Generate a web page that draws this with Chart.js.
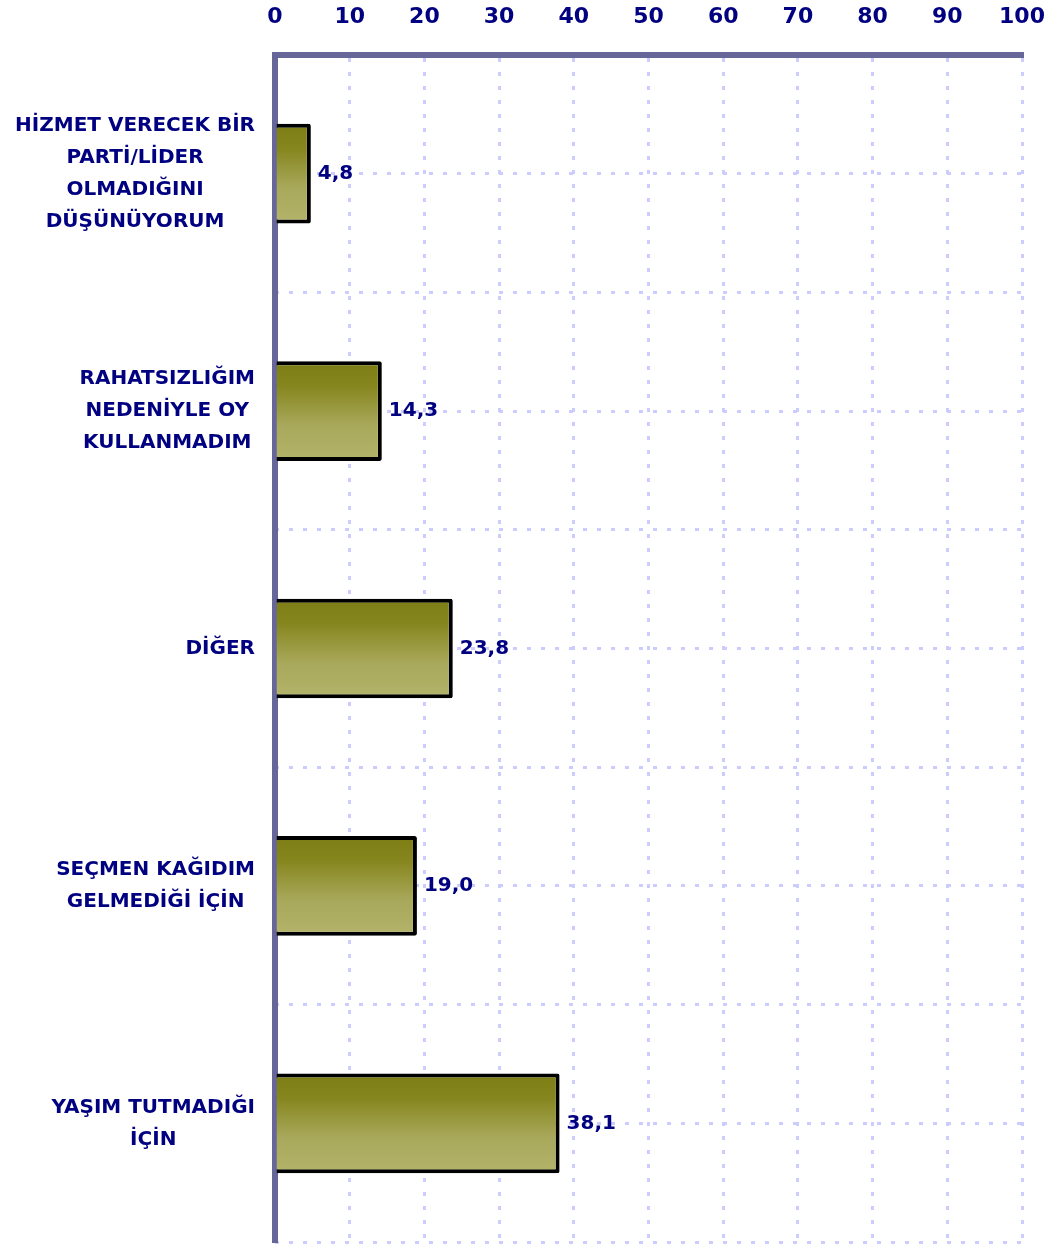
<!DOCTYPE html>
<html>
<head>
<meta charset="utf-8">
<script src="https://cdn.jsdelivr.net/npm/chart.js@4.4.0/dist/chart.umd.min.js"></script>
<style>
  html, body { margin: 0; padding: 0; background: #fff; }
  #wrap { width: 1052px; height: 1245px; }
</style>
</head>
<body>
<div id="wrap"><canvas id="chart" width="1052" height="1245"></canvas></div>
<script>
const categories = [
    ["HİZMET VERECEK BİR", "PARTİ/LİDER", "OLMADIĞINI", "DÜŞÜNÜYORUM"],
    ["RAHATSIZLIĞIM", "NEDENİYLE OY", "KULLANMADIM"],
    ["DİĞER"],
    ["SEÇMEN KAĞIDIM", "GELMEDİĞİ İÇİN"],
    ["YAŞIM TUTMADIĞI", "İÇİN"]
];
const values = [4.8, 14.3, 23.8, 19.0, 38.1];
const xTicks = [0, 10, 20, 30, 40, 50, 60, 70, 80, 90, 100];

const navy = "#000080";
const axisColor = "#666699";
const gridColor = "#ccccff";
const fontFamily = "'DejaVu Sans', sans-serif";
const barPct = 0.42;

function barFill(ctx) {
    const chart = ctx.chart;
    const y = chart.scales.y;
    if (!y || !chart.chartArea) return "#9a9a40";
    const c = y.getPixelForValue(ctx.dataIndex);
    const step = Math.abs(y.getPixelForValue(1) - y.getPixelForValue(0));
    const h = step * barPct / 2;
    const g = chart.ctx.createLinearGradient(0, c - h, 0, c + h);
    g.addColorStop(0, "#7d7d14");
    g.addColorStop(0.25, "#86861f");
    g.addColorStop(0.65, "#a9a95c");
    g.addColorStop(1, "#b3b36a");
    return g;
}

// category labels: block right aligned, lines centered inside it
const categoryLabels = {
    id: "categoryLabels",
    afterDraw(chart) {
        const ctx = chart.ctx;
        const y = chart.scales.y;
        ctx.save();
        ctx.font = "bold 20px " + fontFamily;
        ctx.fillStyle = navy;
        ctx.textAlign = "center";
        ctx.textBaseline = "middle";
        categories.forEach((lines, i) => {
            const cy = y.getPixelForValue(i);
            const maxW = Math.max(...lines.map(l => ctx.measureText(l).width));
            const cx = y.right - 20 - maxW / 2;
            const lh = 32;
            lines.forEach((l, j) => {
                ctx.fillText(l, cx, cy - (lines.length - 1) * lh / 2 + j * lh);
            });
        });
        ctx.restore();
    }
};

const valueLabels = {
    id: "valueLabels",
    afterDatasetsDraw(chart) {
        const ctx = chart.ctx;
        const meta = chart.getDatasetMeta(0);
        ctx.save();
        ctx.font = "bold 20px " + fontFamily;
        ctx.fillStyle = navy;
        ctx.textAlign = "left";
        ctx.textBaseline = "middle";
        meta.data.forEach((bar, i) => {
            ctx.fillText(values[i].toFixed(1).replace(".", ","), bar.x + 7, bar.y);
        });
        ctx.restore();
    }
};

new Chart(document.getElementById("chart"), {
    type: "bar",
    data: {
        labels: categories.map(c => c.join(" ")),
        datasets: [{
            data: values,
            backgroundColor: barFill,
            borderColor: "#000000",
            borderWidth: 4,
            borderSkipped: "left",
            borderRadius: 2,
            categoryPercentage: 1,
            barPercentage: barPct
        }]
    },
    options: {
        indexAxis: "y",
        responsive: false,
        animation: false,
        layout: { padding: { left: 0, right: 30, top: 0, bottom: 3 } },
        plugins: { legend: { display: false }, tooltip: { enabled: false } },
        scales: {
            x: {
                position: "top",
                min: 0,
                max: 100,
                afterBuildTicks: s => { s.ticks = xTicks.map(v => ({ value: v })); },
                afterFit: s => { s.height = 55; s.paddingLeft = 0; s.paddingRight = 0; },
                ticks: {
                    color: navy,
                    font: { family: fontFamily, size: 22, weight: "bold" },
                    padding: 25,
                    maxRotation: 0
                },
                grid: {
                    color: gridColor,
                    lineWidth: 3,
                    drawTicks: false
                },
                border: { color: axisColor, width: 6, dash: [4, 10] }
            },
            y: {
                position: "left",
                afterFit: s => { s.width = 275; },
                ticks: { display: false },
                grid: { display: false },
                border: { color: axisColor, width: 6 }
            },
            yg: {
                type: "linear",
                position: "left",
                reverse: true,
                offset: false,
                min: -0.5,
                max: 4.5,
                afterBuildTicks: s => {
                    const t = [];
                    for (let i = 0; i <= 10; i++) t.push({ value: -0.5 + i * 0.5 });
                    s.ticks = t;
                },
                afterFit: s => { s.width = 0; },
                ticks: { display: false },
                grid: { color: gridColor, lineWidth: 3, drawTicks: false, offset: false },
                border: { display: false, dash: [4, 10] }
            }
        }
    },
    plugins: [categoryLabels, valueLabels]
});
</script>
</body>
</html>
